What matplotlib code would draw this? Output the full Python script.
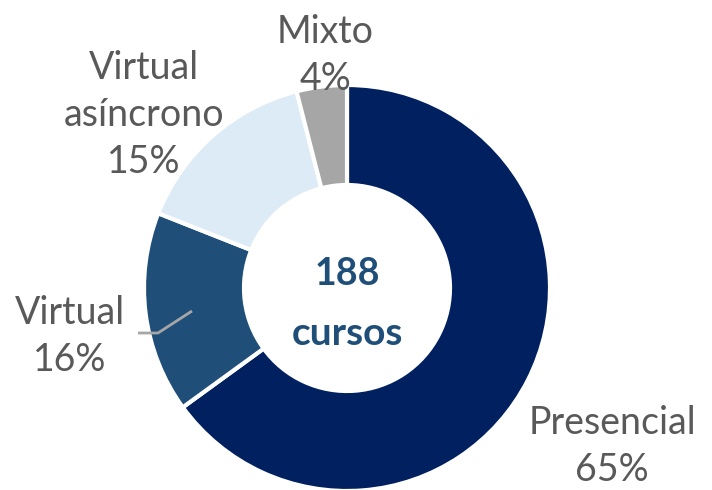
import matplotlib.pyplot as plt

labels = ['Presencial', 'Virtual', 'Virtual\nasíncrono', 'Mixto']
values = [65, 16, 15, 4]
colors = ['#002060', '#1F4E79', '#DDEBF7', '#A6A6A6']
total = 188

plt.rcParams['font.family'] = ['Lato', 'DejaVu Sans']

fig = plt.figure(figsize=(7.12, 4.9), dpi=100)
ax = fig.add_axes([0, 0, 1, 1])

wedges, _ = ax.pie(values, colors=colors, startangle=90, counterclock=False,
                   center=(347, 202), radius=203,
                   wedgeprops=dict(width=100, edgecolor='white', linewidth=3))
# pie resets the limits, so set them afterwards
ax.set_xlim(0, 712)
ax.set_ylim(0, 490)
ax.set_aspect('equal')
ax.axis('off')

# data labels: x centre and baseline of the last line (pixels from bottom)
pos = [(612, 9), (70, 119), (144, 317), (325, 400)]
for lab, v, (x, y) in zip(labels, values, pos):
    lines = lab.split('\n') + [f'{v}%']
    for i, line in enumerate(reversed(lines)):
        ax.text(x, y + 47 * i, line, ha='center', va='baseline',
                fontsize=27, color='#595959')

# leader line for Virtual
ax.plot([138, 158, 192], [157, 157, 179], color='#A6A6A6', lw=2,
        solid_capstyle='butt')

ax.text(347, 205, f'{total}', ha='center', va='baseline', fontsize=27,
        fontweight='bold', color='#1F4E79')
ax.text(347, 145, 'cursos', ha='center', va='baseline', fontsize=28,
        fontweight='bold', color='#1F4E79')

fig.savefig('out.png', dpi=100)
